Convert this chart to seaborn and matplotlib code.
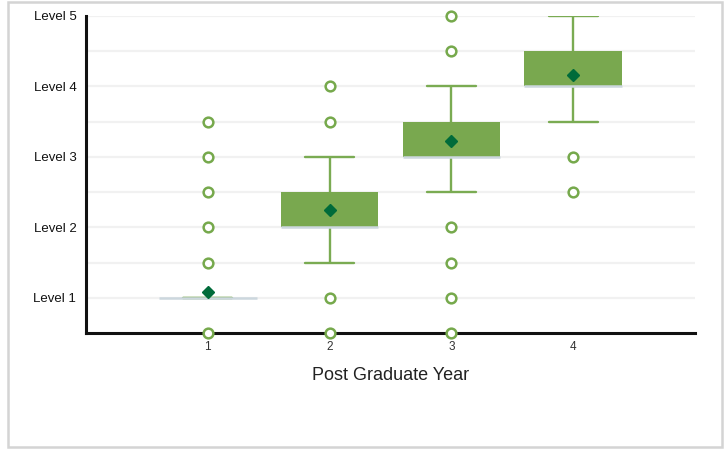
import numpy as np
import pandas as pd
import matplotlib
matplotlib.use("Agg")
import matplotlib.pyplot as plt
from matplotlib.patches import Rectangle
import seaborn as sns

# Score levels and how many residents scored each level per post-graduate year
levels = [0.5, 1.0, 1.5, 2.0, 2.5, 3.0, 3.5, 4.0, 4.5, 5.0]
years = ["1", "2", "3", "4"]
counts_y1 = [1, 81, 1, 1, 1, 1, 1, 0, 0, 0]
counts_y2 = [1, 1, 3, 10, 6, 4, 1, 1, 0, 0]
counts_y3 = [1, 1, 1, 1, 1, 16, 10, 8, 1, 1]
counts_y4 = [0, 0, 0, 0, 1, 1, 3, 8, 8, 4]
level_ticks = [1, 2, 3, 4, 5]
level_labels = ["Level 1", "Level 2", "Level 3", "Level 4", "Level 5"]

all_counts = [counts_y1, counts_y2, counts_y3, counts_y4]
rows = []
for yr, cnts in zip(years, all_counts):
    vals = np.repeat(levels, cnts)
    rows.append(pd.DataFrame({"year": yr, "score": vals}))
df = pd.concat(rows, ignore_index=True)

sns.set_theme(style="white")
plt.rcParams["font.family"] = ["Liberation Sans", "DejaVu Sans"]

fig = plt.figure(figsize=(7.25, 4.51), dpi=100)
ax = fig.add_axes([86 / 725, 1 - 333 / 451, (695 - 86) / 725, (333 - 16) / 451])

box_green = "#79a84f"
line_green = "#7aab52"
flier_green = "#76a94c"

sns.boxplot(
    data=df, x="year", y="score", order=years, ax=ax,
    color=box_green, saturation=1, width=0.8, linewidth=1.7,
    linecolor=line_green,
    boxprops=dict(edgecolor="none", linewidth=0, zorder=2),
    whiskerprops=dict(color=line_green, linewidth=1.7),
    capprops=dict(color=line_green, linewidth=1.7),
    medianprops=dict(color="#ccd7de", linewidth=1.8, zorder=3),
    flierprops=dict(marker="o", markersize=7, markerfacecolor="white",
                    markeredgecolor=flier_green, markeredgewidth=1.8,
                    clip_on=False, zorder=6),
    showmeans=True,
    meanprops=dict(marker="D", markersize=6.2, markerfacecolor="#006b3a",
                   markeredgecolor="#006b3a", zorder=4),
)

ax.set_xlim(-1, 4)
ax.set_ylim(0.5, 5)
ax.set_yticks(level_ticks)
ax.set_yticklabels(level_labels)
ax.set_yticks(np.arange(1.5, 5, 1.0), minor=True)
ax.grid(axis="y", which="both", color="#f1f1f1", linewidth=1.6, zorder=0)
ax.set_axisbelow(True)

for s in ["top", "right"]:
    ax.spines[s].set_visible(False)
for s in ["left", "bottom"]:
    ax.spines[s].set_color("#111111")
    ax.spines[s].set_linewidth(2.2)
    ax.spines[s].set_zorder(5)

ax.tick_params(axis="y", which="both", length=0, pad=7, labelsize=9.5, labelcolor="#111111")
ax.tick_params(axis="x", length=3, width=0.8, color="#888888", pad=3, labelsize=8.5, labelcolor="#333333")
ax.set_ylabel("")
ax.set_xlabel("Post Graduate Year", fontsize=13, color="#222222", labelpad=10)

fig.patches.append(Rectangle((8 / 725, 1 - 447 / 451), 714 / 725, 445 / 451,
                             transform=fig.transFigure, fill=False,
                             edgecolor="#d4d4d4", linewidth=1.8))

fig.savefig("out.png", dpi=100)
